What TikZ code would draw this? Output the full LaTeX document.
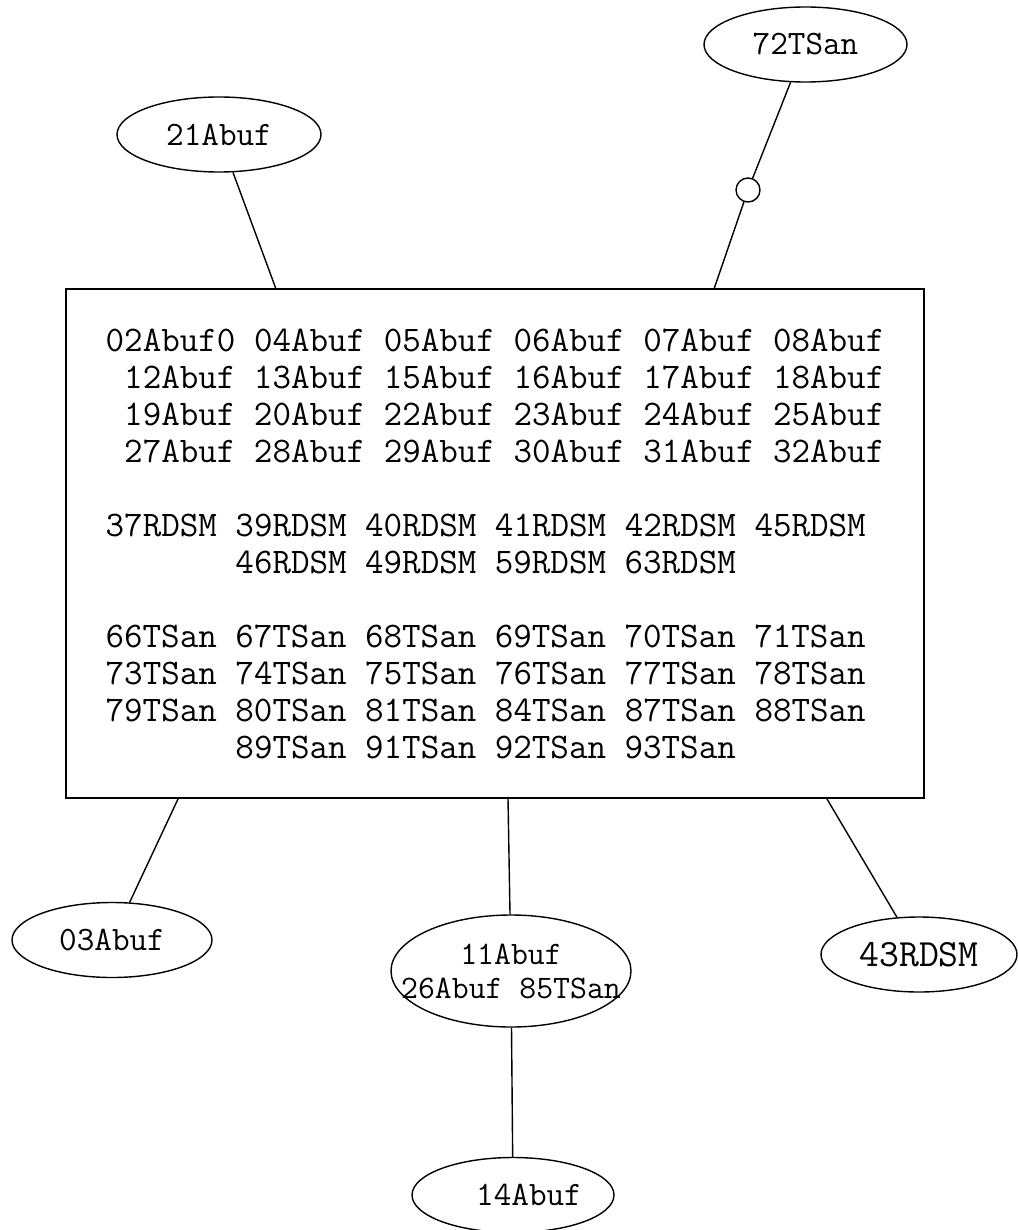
\documentclass[tikz,border=0pt]{standalone}
\usepackage{fontspec}
\usetikzlibrary{shapes.geometric}

\tikzset{
  group/.style={draw, ellipse, inner sep=0pt, line width=0.7pt,
    minimum width=100pt, minimum height=37.5pt,
    font=\ttfamily\fontsize{17.1}{17}\selectfont},
  members/.style={draw, rectangle, line width=0.7pt, align=left,
    font=\ttfamily\fontsize{18}{18.5}\selectfont},
  link/.style={line width=0.7pt}
}

\begin{document}
\begin{tikzpicture}[x=0.5pt, y=-0.5pt]
        \useasboundingbox (0,0) rectangle (1017,1230);

        % Main group
        \node[members, minimum width=429pt, minimum height=254.5pt] (box) at (495,543.5)
          {02Abuf0 04Abuf 05Abuf 06Abuf 07Abuf 08Abuf\\
           ~12Abuf 13Abuf 15Abuf 16Abuf 17Abuf 18Abuf\\
           ~19Abuf 20Abuf 22Abuf 23Abuf 24Abuf 25Abuf\\
           ~27Abuf 28Abuf 29Abuf 30Abuf 31Abuf 32Abuf\\[18.5pt]
           37RDSM 39RDSM 40RDSM 41RDSM 42RDSM 45RDSM\\
           ~~~~~~~46RDSM 49RDSM 59RDSM 63RDSM\\[18.5pt]
           66TSan 67TSan 68TSan 69TSan 70TSan 71TSan\\
           73TSan 74TSan 75TSan 76TSan 77TSan 78TSan\\
           79TSan 80TSan 81TSan 84TSan 87TSan 88TSan\\
           ~~~~~~~89TSan 91TSan 92TSan 93TSan};

        % Outer groups
        \node[group, minimum width=102pt] (g21) at (219,134.5) {21Abuf};
        \node[group, minimum width=101.5pt] (g72) at (805.5,44.5) {72TSan};
        \node[group] (g03) at (112,940) {03Abuf};
        \node[group, minimum width=120pt, minimum height=56pt, inner xsep=-15pt,
              align=center, font=\ttfamily\fontsize{16.4}{17}\selectfont] (g11) at (511,971)
          {11Abuf\\26Abuf 85TSan};
        \node[group, minimum width=98pt,
              font=\ttfamily\fontsize{19.3}{20}\selectfont] (g43) at (919,954.5) {43RDSM};
        \node[group, minimum width=101pt] (g14) at (513,1195) {\hspace*{16pt}14Abuf};

        % Ends on the box
        \coordinate (t21) at (276,289);
        \coordinate (t72) at (714,289);
        \coordinate (b03) at (178,799);
        \coordinate (b11) at (508,799);
        \coordinate (b43) at (827,799);

        % Links
        \node[draw, circle, inner sep=0pt, minimum size=12pt, line width=0.7pt] (ring) at (748,190) {};
        \draw[link] (g21) -- (t21);
        \draw[link] (g72) -- (ring) -- (t72);
        \draw[link] (b03) -- (g03);
        \draw[link] (b11) -- (g11);
        \draw[link] (b43) -- (g43);
        \draw[link] (g11) -- (g14);
    \end{tikzpicture}
\end{document}
